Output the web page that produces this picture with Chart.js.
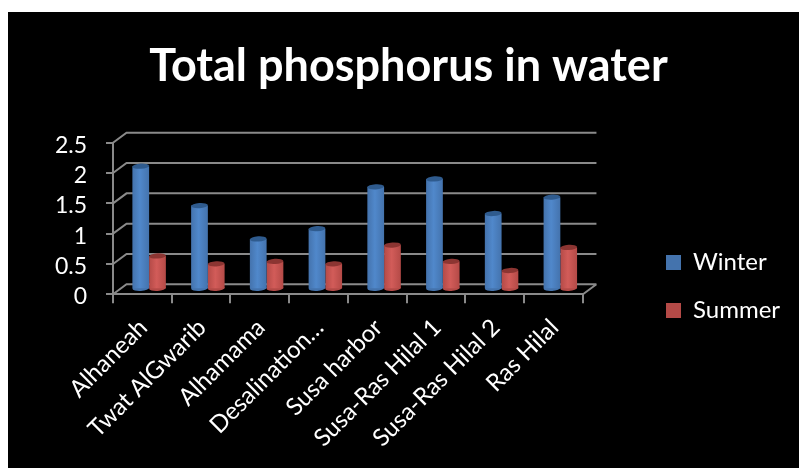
<!DOCTYPE html>
<html>
<head>
<meta charset="utf-8">
<title>Total phosphorus in water</title>
<script src="https://cdn.jsdelivr.net/npm/chart.js@4/dist/chart.umd.min.js"></script>
<style>
html, body { margin: 0; padding: 0; background: #fff; overflow: hidden; }
#wrap { position: absolute; left: 8px; top: 12px; width: 791px; height: 456px; background: #000; }
</style>
</head>
<body>
<div id="wrap"><canvas id="grafica" width="791" height="456"></canvas></div>
<script>
// Values
const categories = ["Alhaneah", "Twat AlGwarib", "Alhamama", "Desalination…", "Susa harbor", "Susa-Ras Hilal 1", "Susa-Ras Hilal 2", "Ras Hilal"];
const winter = [2.03, 1.38, 0.83, 1.0, 1.69, 1.82, 1.25, 1.52];
const summer = [0.55, 0.42, 0.46, 0.42, 0.73, 0.46, 0.31, 0.69];

const FONT = "Lato, Carlito, sans-serif";
const GRID = "#8a8a8a";
const DEPTH_X = 13.5, DEPTH_Y = -10; // back wall offset of the fake 3d box
const GROUP_PCT = 0.57;
const tones = [
    { flat: "#4f81bd", edge: "#4473ad", mid: "#5088cb", cap: "#2f5b8e" },
    { flat: "#c0504d", edge: "#b44a47", mid: "#d25c59", cap: "#8c3532" },
];

// horizontal shading so that each bar reads as a cylinder
function cylinder(c) {
    const tone = tones[c.datasetIndex];
    const sx = c.chart.scales.x;
    if (c.dataIndex === undefined || !sx) return tone.flat;
    const w = sx.width / categories.length * GROUP_PCT / 2;
    const cx = sx.getPixelForValue(c.dataIndex);
    if (!isFinite(cx) || !isFinite(w)) return tone.flat; // scale not laid out yet
    const left = c.datasetIndex === 0 ? cx - w : cx;
    const g = c.chart.ctx.createLinearGradient(left, 0, left + w, 0);
    g.addColorStop(0, tone.edge);
    g.addColorStop(0.45, tone.mid);
    g.addColorStop(1, tone.edge);
    return g;
}

function caps(chart, atTop) {
    const ctx = chart.ctx;
    chart.data.datasets.forEach((ds, i) => {
        chart.getDatasetMeta(i).data.forEach(bar => {
            ctx.beginPath();
            ctx.ellipse(bar.x, atTop ? bar.y : bar.base, bar.width / 2, 2.6, -0.06, 0, Math.PI * 2);
            ctx.fillStyle = atTop ? tones[i].cap : tones[i].edge;
            ctx.fill();
        });
    });
}

const box3d = {
    id: "box3d",
    afterLayout(chart) {
        // legend sits apart from the plot, title is centred on the black panel
        chart.legend.left = 634;
        chart.legend.right = 791;
        chart.legend.top = 214.5;
        chart.legend.bottom = 456;
        chart.titleBlock.left = 9;
        chart.titleBlock.right = 792;
    },
    beforeDatasetsDraw(chart) {
        const ctx = chart.ctx, sx = chart.scales.x, sy = chart.scales.y;
        ctx.save();
        ctx.strokeStyle = GRID;
        ctx.lineWidth = 2;
        ctx.beginPath();
        sy.ticks.forEach(t => {
            const y = sy.getPixelForValue(t.value);
            ctx.moveTo(sx.left, y);
            ctx.lineTo(sx.left + DEPTH_X, y + DEPTH_Y);
            ctx.lineTo(sx.right + DEPTH_X, y + DEPTH_Y);
        });
        const y0 = sy.getPixelForValue(0);
        ctx.moveTo(sx.right, y0);
        ctx.lineTo(sx.right + DEPTH_X, y0 + DEPTH_Y);
        ctx.stroke();
        ctx.restore();
        // bars stand in the middle of the floor
        ctx.save();
        ctx.translate(DEPTH_X / 2, DEPTH_Y / 2);
        caps(chart, false);
    },
    afterDatasetsDraw(chart) {
        caps(chart, true);
        chart.ctx.restore();
    },
};

new Chart(document.querySelector("#grafica"), {
    type: "bar",
    plugins: [box3d],
    data: {
        labels: categories,
        datasets: [
            { label: "Winter", data: winter, backgroundColor: cylinder, clip: false, barPercentage: 1, categoryPercentage: GROUP_PCT },
            { label: "Summer", data: summer, backgroundColor: cylinder, clip: false, barPercentage: 1, categoryPercentage: GROUP_PCT },
        ],
    },
    options: {
        responsive: false,
        animation: false,
        layout: { padding: { right: 68 } },
        plugins: {
            title: {
                display: true,
                text: "Total phosphorus in water",
                color: "#fff",
                font: { family: FONT, size: 45, weight: "bold" },
                padding: { top: 27, bottom: 49.7 },
            },
            legend: {
                position: "right",
                align: "start",
                labels: {
                    color: "#fff",
                    font: { family: FONT, size: 24 },
                    boxWidth: 15,
                    boxHeight: 15,
                    padding: 24,
                },
            },
            tooltip: { enabled: false },
        },
        scales: {
            x: {
                afterFit(scale) { scale.height = 173.7; },
                grid: { color: GRID, lineWidth: 2, drawOnChartArea: false, tickLength: 9 },
                border: { color: GRID, width: 2 },
                ticks: { color: "#fff", font: { family: FONT, size: 24 }, minRotation: 45, maxRotation: 45, autoSkip: false, padding: 10, labelOffset: 1 },
            },
            y: {
                min: 0,
                max: 2.5,
                afterFit(scale) { scale.width = 105; },
                grid: { color: GRID, lineWidth: 2, drawOnChartArea: false, tickLength: 7 },
                border: { color: GRID, width: 2 },
                ticks: { color: "#fff", font: { family: FONT, size: 23 }, stepSize: 0.5, autoSkip: false, padding: 19, labelOffset: 2.5, callback: v => String(v) },
            },
        },
    },
});
</script>
</body>
</html>
